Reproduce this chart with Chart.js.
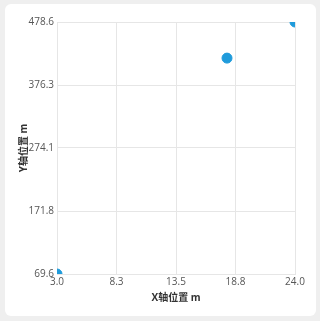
<!DOCTYPE html>
<html>
<head>
<meta charset="utf-8">
<script src="https://cdn.jsdelivr.net/npm/chart.js@4/dist/chart.umd.min.js"></script>
<style>
  html, body { margin: 0; padding: 0; background: #efefef; }
  #card {
    position: absolute; left: 5px; top: 4px; width: 311px; height: 312px;
    background: #fff; border-radius: 6px;
  }
  canvas { display: block; }
</style>
</head>
<body>
<div id="card"><canvas id="scatterChart" width="311" height="312"></canvas></div>
<script>
// points
var xValues = [3.0, 18.0, 24.0];
var yValues = [69.6, 420.0, 478.6];
var xMin = 3.0, xMax = 24.0;
var yMin = 69.6, yMax = 478.6;
var xTickLabels = ['3.0', '8.3', '13.5', '18.8', '24.0'];
var yTickLabels = ['69.6', '171.8', '274.1', '376.3', '478.6'];

var points = xValues.map(function (x, i) { return { x: x, y: yValues[i] }; });

function evenTicks(min, max, n) {
  return function (scale) {
    scale.ticks = [];
    for (var i = 0; i < n; i++) {
      scale.ticks.push({ value: min + (max - min) * i / (n - 1) });
    }
  };
}

var font = { family: "'Open Sans', 'Noto Sans CJK SC', sans-serif", size: 10 };

new Chart(document.getElementById('scatterChart').getContext('2d'), {
  type: 'scatter',
  data: {
    datasets: [{
      data: points,
      backgroundColor: '#1f9bdb',
      borderColor: '#1f9bdb',
      pointRadius: 5,
      pointHoverRadius: 5,
      clip: 0
    }]
  },
  options: {
    responsive: false,
    animation: false,
    layout: { padding: { top: 18, right: 21, left: 10, bottom: 8 } },
    plugins: { legend: { display: false }, tooltip: { enabled: false } },
    scales: {
      x: {
        min: xMin, max: xMax,
        afterBuildTicks: evenTicks(xMin, xMax, xTickLabels.length),
        afterFit: function (s) { s.height = 34; },
        grid: { color: '#e6e6e6', drawTicks: false },
        border: { color: '#e6e6e6' },
        ticks: { padding: 2, color: '#555', font: font, maxRotation: 0,
          callback: function (v, i) { return xTickLabels[i]; } },
        title: { display: true, text: 'X轴位置 m', color: '#333', padding: { top: 2 },
          font: { family: font.family, size: 10, weight: 'bold' } }
      },
      y: {
        min: yMin, max: yMax,
        afterBuildTicks: evenTicks(yMin, yMax, yTickLabels.length),
        afterFit: function (s) { s.width = 42; },
        grid: { color: '#e6e6e6', drawTicks: false },
        border: { color: '#e6e6e6' },
        ticks: { padding: 3, color: '#555', font: font,
          callback: function (v, i) { return yTickLabels[i]; } },
        title: { display: true, text: 'Y轴位置 m', color: '#333', padding: { top: 3, bottom: 0 },
          font: { family: font.family, size: 10, weight: 'bold' } }
      }
    }
  }
});
</script>
</body>
</html>
